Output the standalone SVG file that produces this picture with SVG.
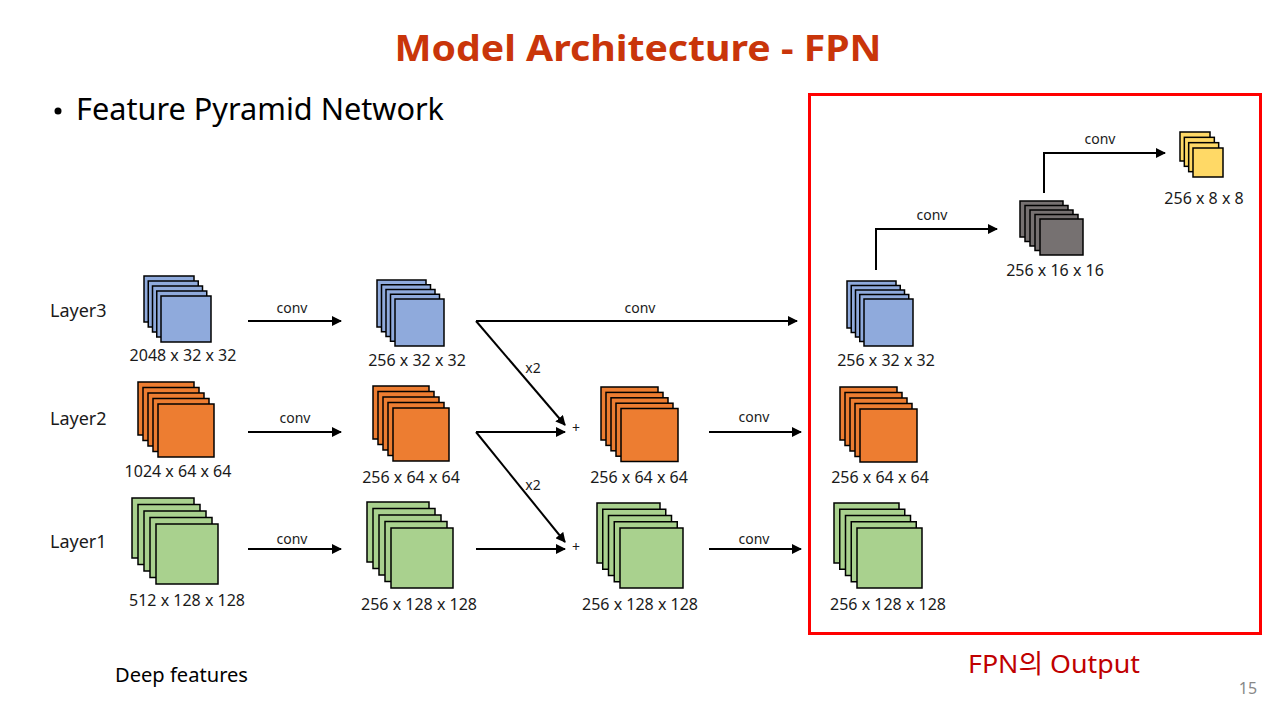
<svg xmlns="http://www.w3.org/2000/svg" width="1280" height="720" viewBox="0 0 1280 720">
<defs>
<marker id="ah" viewBox="0 0 10 10" refX="9" refY="5" markerWidth="5" markerHeight="5" markerUnits="strokeWidth" orient="auto">
<path d="M0,0 L10,5 L0,10 z" fill="#000"/>
</marker>
<style>
text{font-family:"Noto Sans","Noto Sans CJK KR",sans-serif;fill:#1a1a1a}
.lbl{font-size:16px;text-anchor:middle}
.cv{font-size:14px;text-anchor:middle}
.ly{font-size:18px}
.b rect{fill:#8FAADC;stroke:#000;stroke-width:1.5}
.o rect{fill:#ED7D31;stroke:#000;stroke-width:1.5}
.g rect{fill:#A9D18E;stroke:#000;stroke-width:1.5}
.k rect{fill:#767171;stroke:#000;stroke-width:1.5}
.y rect{fill:#FFD966;stroke:#000;stroke-width:1.5}
.ar{fill:none;stroke:#000;stroke-width:2;marker-end:url(#ah)}
</style>
</defs>
<rect width="1280" height="720" fill="#fff"/>
<text x="638" y="61" text-anchor="middle" style="font-size:36px;font-weight:bold;fill:#C9350A" textLength="487" lengthAdjust="spacingAndGlyphs">Model Architecture - FPN</text>
<circle cx="58" cy="111" r="3.5" fill="#000"/>
<text x="76" y="120" style="font-size:31px;fill:#000" textLength="368" lengthAdjust="spacingAndGlyphs">Feature Pyramid Network</text>
<rect x="809.5" y="94.5" width="451" height="539" fill="none" stroke="#FF0000" stroke-width="3"/>
<text class="ly" x="50" y="317">Layer3</text>
<text class="ly" x="50" y="425">Layer2</text>
<text class="ly" x="50" y="548">Layer1</text>

<g id="in3" class="b">
<rect x="144" y="276" width="50" height="46"/><rect x="148.25" y="281" width="50" height="46"/><rect x="152.5" y="286" width="50" height="46"/><rect x="156.75" y="291" width="50" height="46"/><rect x="161" y="296" width="50" height="46"/>
<text class="lbl" x="183" y="361">2048 x 32 x 32</text>
</g>
<g id="mid3" class="b">
<rect x="377" y="280" width="49" height="47"/><rect x="381.5" y="284.75" width="49" height="47"/><rect x="386" y="289.5" width="49" height="47"/><rect x="390.5" y="294.25" width="49" height="47"/><rect x="395" y="299" width="49" height="47"/>
<text class="lbl" x="417" y="366">256 x 32 x 32</text>
</g>
<g id="out3" class="b">
<rect x="847" y="281" width="49" height="47"/><rect x="851.25" y="285.5" width="49" height="47"/><rect x="855.5" y="290" width="49" height="47"/><rect x="859.75" y="294.5" width="49" height="47"/><rect x="864" y="299" width="49" height="47"/>
<text class="lbl" x="886" y="366">256 x 32 x 32</text>
</g>
<g id="in2" class="o">
<rect x="138" y="382" width="56" height="53"/><rect x="143" y="387.5" width="56" height="53"/><rect x="148" y="393" width="56" height="53"/><rect x="153" y="398.5" width="56" height="53"/><rect x="158" y="404" width="56" height="53"/>
<text class="lbl" x="178" y="477">1024 x 64 x 64</text>
</g>
<g id="mid2" class="o">
<rect x="373" y="386" width="56" height="53"/><rect x="378" y="391.5" width="56" height="53"/><rect x="383" y="397" width="56" height="53"/><rect x="388" y="402.5" width="56" height="53"/><rect x="393" y="408" width="56" height="53"/>
<text class="lbl" x="411" y="483">256 x 64 x 64</text>
</g>
<g id="sum2" class="o">
<rect x="601" y="387" width="57" height="53"/><rect x="606" y="392.4" width="57" height="53"/><rect x="611" y="397.8" width="57" height="53"/><rect x="616" y="403.2" width="57" height="53"/><rect x="621" y="408.5" width="57" height="53"/>
<text class="lbl" x="639" y="483">256 x 64 x 64</text>
</g>
<g id="out2" class="o">
<rect x="840" y="387" width="57" height="53"/><rect x="845" y="392.5" width="57" height="53"/><rect x="850" y="398" width="57" height="53"/><rect x="855" y="403.5" width="57" height="53"/><rect x="860" y="409" width="57" height="53"/>
<text class="lbl" x="880" y="483">256 x 64 x 64</text>
</g>
<g id="in1" class="g">
<rect x="132" y="498" width="62" height="60"/><rect x="138" y="504.5" width="62" height="60"/><rect x="144" y="511" width="62" height="60"/><rect x="150" y="517.5" width="62" height="60"/><rect x="156" y="524" width="62" height="60"/>
<text class="lbl" x="187" y="606">512 x 128 x 128</text>
</g>
<g id="mid1" class="g">
<rect x="367" y="502" width="62" height="60"/><rect x="373" y="508.5" width="62" height="60"/><rect x="379" y="515" width="62" height="60"/><rect x="385" y="521.5" width="62" height="60"/><rect x="391" y="528" width="62" height="60"/>
<text class="lbl" x="419" y="610">256 x 128 x 128</text>
</g>
<g id="sum1" class="g">
<rect x="597" y="503" width="63" height="60"/><rect x="602.75" y="509.25" width="63" height="60"/><rect x="608.5" y="515.5" width="63" height="60"/><rect x="614.25" y="521.75" width="63" height="60"/><rect x="620" y="528" width="63" height="60"/>
<text class="lbl" x="640" y="610">256 x 128 x 128</text>
</g>
<g id="out1" class="g">
<rect x="834" y="503" width="65" height="60"/><rect x="839.75" y="509.25" width="65" height="60"/><rect x="845.5" y="515.5" width="65" height="60"/><rect x="851.25" y="521.75" width="65" height="60"/><rect x="857" y="528" width="65" height="60"/>
<text class="lbl" x="888" y="610">256 x 128 x 128</text>
</g>
<g id="p16" class="k">
<rect x="1020" y="201" width="43" height="36"/><rect x="1025" y="205.5" width="43" height="36"/><rect x="1030" y="210" width="43" height="36"/><rect x="1035" y="214.5" width="43" height="36"/><rect x="1040" y="219" width="43" height="36"/>
<text class="lbl" x="1055" y="276">256 x 16 x 16</text>
</g>
<g id="p8" class="y">
<rect x="1180" y="132" width="30" height="29"/><rect x="1184.33" y="137.33" width="30" height="29"/><rect x="1188.67" y="142.67" width="30" height="29"/><rect x="1193" y="148" width="30" height="29"/>
<text class="lbl" x="1204" y="204">256 x 8 x 8</text>
</g>

<g id="connectors">
<line class="ar" x1="248" y1="321" x2="341" y2="321"/>
<line class="ar" x1="248" y1="432" x2="341" y2="432"/>
<line class="ar" x1="248" y1="549" x2="341" y2="549"/>
<line class="ar" x1="476" y1="321" x2="797" y2="321"/>
<line class="ar" x1="476" y1="321" x2="565" y2="425"/>
<line class="ar" x1="476" y1="432" x2="565" y2="432"/>
<line class="ar" x1="476" y1="432" x2="565" y2="542"/>
<line class="ar" x1="476" y1="549" x2="565" y2="549"/>
<line class="ar" x1="709" y1="432" x2="801" y2="432"/>
<line class="ar" x1="709" y1="549" x2="801" y2="549"/>
<polyline class="ar" points="876,270 876,229 997,229"/>
<polyline class="ar" points="1044,193 1044,153 1165,153"/>
<text class="cv" x="292" y="313">conv</text>
<text class="cv" x="295" y="423">conv</text>
<text class="cv" x="292" y="544">conv</text>
<text class="cv" x="640" y="313">conv</text>
<text class="cv" x="754" y="422">conv</text>
<text class="cv" x="754" y="544">conv</text>
<text class="cv" x="932" y="220">conv</text>
<text class="cv" x="1100" y="144">conv</text>
<text class="cv" x="533" y="373">x2</text>
<text class="cv" x="533" y="490">x2</text>
<text class="cv" x="576" y="433">+</text>
<text class="cv" x="576" y="552">+</text>
</g>

<text x="115" y="682" style="font-size:20px;fill:#000" textLength="133" lengthAdjust="spacingAndGlyphs">Deep  features</text>
<text x="968" y="673" style="font-size:26px;fill:#C00000" textLength="172" lengthAdjust="spacingAndGlyphs">FPN의 Output</text>
<text x="1248" y="694" text-anchor="middle" style="font-size:16px;fill:#888">15</text>
</svg>
